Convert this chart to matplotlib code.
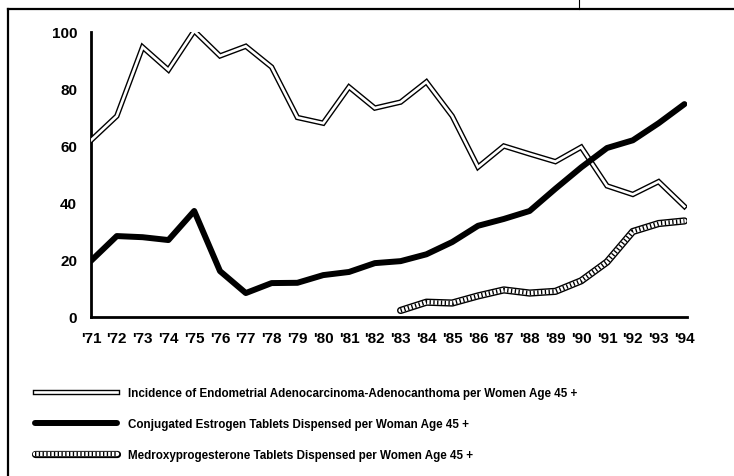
import matplotlib
matplotlib.use("Agg")
import matplotlib.pyplot as plt
from matplotlib.lines import Line2D
from matplotlib.legend_handler import HandlerTuple

plt.rcParams['font.family'] = ['Liberation Sans', 'DejaVu Sans']
plt.rcParams['font.weight'] = 'bold'

years = list(range(71, 95))
year_labels = ["'%d" % y for y in years]

incidence = [62, 70.5, 94.7, 86.7, 100.4, 91.6, 95, 87.7, 70, 68, 80.7, 73.3,
             75.4, 82.5, 70.5, 52.6, 60, 57.2, 54.5, 59.6, 46, 43, 47.5, 38.8]
estrogen = [19.7, 28.4, 28, 27, 37.2, 16.1, 8.4, 11.9, 12, 14.7, 15.8, 18.9,
            19.6, 22, 26.3, 32, 34.4, 37.2, 45, 52.5, 59.3, 62, 68, 74.7]
medroxy_years = list(range(83, 95))
medroxy = [2.3, 5.2, 4.9, 7.4, 9.5, 8.4, 9, 12.7, 19.3, 30, 32.8, 33.7]

labels = [
    "Incidence of Endometrial Adenocarcinoma-Adenocanthoma per Women Age 45 +",
    "Conjugated Estrogen Tablets Dispensed per Woman Age 45 +",
    "Medroxyprogesterone Tablets Dispensed per Women Age 45 +",
]

fig = plt.figure(figsize=(7.34, 4.77), dpi=100)
ax = fig.add_axes([91 / 734, 1 - 318 / 477, (687 - 91) / 734, (318 - 33) / 477])

# double (outlined) line
inc_out, = ax.plot(years, incidence, color='black', lw=3.9, solid_joinstyle='miter', zorder=3)
inc_in, = ax.plot(years, incidence, color='white', lw=1.9, solid_joinstyle='miter', zorder=4)

# thick black line
est, = ax.plot(years, estrogen, color='black', lw=4.3, solid_joinstyle='round',
               solid_capstyle='round', zorder=5)

# hatched line
med_out, = ax.plot(medroxy_years, medroxy, color='black', lw=5.2, solid_capstyle='round', zorder=2)
med_in, = ax.plot(medroxy_years, medroxy, color='white', lw=3.2, solid_capstyle='round', zorder=2)
med_h, = ax.plot(medroxy_years, medroxy, color='black', lw=3.2, dashes=(0.3, 0.55), zorder=2)

ax.set_xlim(71, 94.1)
ax.set_ylim(0, 100)
ax.set_xticks(years)
ax.set_xticklabels(year_labels)
ax.set_yticks([0, 20, 40, 60, 80, 100])
ax.tick_params(length=0, labelsize=11, pad=10)
for lab in ax.get_xticklabels() + ax.get_yticklabels():
    lab.set_fontweight('bold')
for s in ['top', 'right']:
    ax.spines[s].set_visible(False)
for s in ['left', 'bottom']:
    ax.spines[s].set_linewidth(2)

leg = fig.legend(
    [(inc_out, inc_in), est, (med_out, med_in, med_h)], labels,
    handler_map={tuple: HandlerTuple(ndivide=1)},
    loc='upper left', bbox_to_anchor=(35 / 734, 1 - 388 / 477),
    frameon=False, fontsize=8.4, handlelength=7.0, handletextpad=0.95,
    labelspacing=1.65, borderpad=0, borderaxespad=0)
for t in leg.get_texts():
    t.set_fontweight('bold')

# page border lines from the scanned figure
fig.add_artist(Line2D([8 / 734, 1], [1 - 10 / 477, 1 - 10 / 477], color='black', lw=1.6))
fig.add_artist(Line2D([8 / 734, 8 / 734], [0, 1 - 10 / 477], color='black', lw=1.6))
fig.add_artist(Line2D([579 / 734, 579 / 734], [1 - 10 / 477, 1], color='black', lw=0.8))

fig.savefig('out.png', dpi=100)
